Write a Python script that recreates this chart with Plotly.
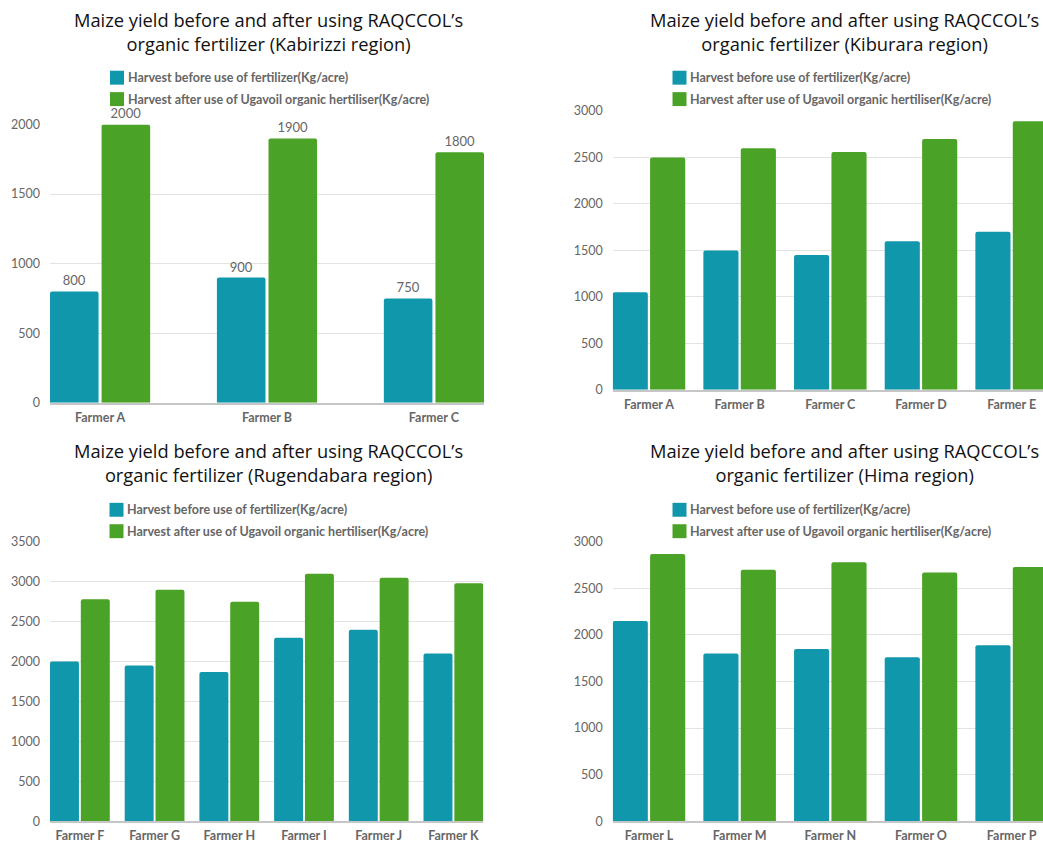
import plotly.graph_objects as go

W, H = 1043, 843
# observed vertical mapping of the rendered page: shown_y = Y_OFF + Y_SCALE * figure_y
Y_OFF, Y_SCALE = 8.5, 0.977

series_names = ["Harvest before use of fertilizer(Kg/acre)",
                "Harvest after use of Ugavoil organic hertiliser(Kg/acre)"]
colors = ["#1097AB", "#4AA226"]

kab_farmers = ["Farmer A", "Farmer B", "Farmer C"]
kab_before = [800, 900, 750]
kab_after = [2000, 1900, 1800]

kib_farmers = ["Farmer A", "Farmer B", "Farmer C", "Farmer D", "Farmer E"]
kib_before = [1050, 1500, 1450, 1600, 1700]
kib_after = [2500, 2600, 2560, 2700, 2890]

rug_farmers = ["Farmer F", "Farmer G", "Farmer H", "Farmer I", "Farmer J", "Farmer K"]
rug_before = [2000, 1950, 1870, 2300, 2400, 2100]
rug_after = [2780, 2900, 2750, 3100, 3050, 2980]

him_farmers = ["Farmer L", "Farmer M", "Farmer N", "Farmer O", "Farmer P"]
him_before = [2150, 1800, 1850, 1760, 1890]
him_after = [2870, 2700, 2780, 2670, 2730]

titles = [
    "Maize yield before and after using RAQCCOL’s<br>organic fertilizer (Kabirizzi region)",
    "Maize yield before and after using RAQCCOL’s<br>organic fertilizer (Kiburara region)",
    "Maize yield before and after using RAQCCOL’s<br>organic fertilizer (Rugendabara region)",
    "Maize yield before and after using RAQCCOL’s<br>organic fertilizer (Hima region)",
]

RIGHT_RANGE = -0.4 + (1043 - 612.7) / 90.67

panels = [
    dict(cats=kab_farmers, b=kab_before, a=kab_after, ymax=2000,
         x0=50, x1=484, yt=125.5, yb=405, xr=[-0.3, 2.3], labels=True,
         half=0.3, gap=0.018, tx=268, ty=32, lx=110, ly=78.5),
    dict(cats=kib_farmers, b=kib_before, a=kib_after, ymax=3000,
         x0=612.7, x1=1043, yt=112, yb=392, xr=[-0.4, RIGHT_RANGE], labels=False,
         half=0.4, gap=0.025, tx=844.5, ty=32, lx=672.5, ly=78.5),
    dict(cats=rug_farmers, b=rug_before, a=rug_after, ymax=3500,
         x0=50, x1=483.3, yt=544.7, yb=825.3, xr=[-0.4, 5.4], labels=False,
         half=0.4, gap=0.025, tx=268, ty=465, lx=109.5, ly=512.5),
    dict(cats=him_farmers, b=him_before, a=him_after, ymax=3000,
         x0=612.7, x1=1043, yt=544.7, yb=825.3, xr=[-0.4, RIGHT_RANGE], labels=False,
         half=0.4, gap=0.025, tx=844.5, ty=465, lx=672.5, ly=512.5),
]

fig = go.Figure()
annotations = []
shapes = []


def px_x(x):
    return x / W


def px_y(y):
    return 1 - ((y - Y_OFF) / Y_SCALE) / H


for i, p in enumerate(panels):
    n = "" if i == 0 else str(i + 1)
    xa, ya = "x" + n, "y" + n
    bw = p["half"] - p["gap"] / 2
    offs = [-p["half"], p["gap"] / 2]
    for k, (vals, name, col) in enumerate([(p["b"], series_names[0], colors[0]),
                                           (p["a"], series_names[1], colors[1])]):
        fig.add_trace(go.Bar(
            x=p["cats"], y=vals, name=name, xaxis=xa, yaxis=ya,
            width=bw, offset=offs[k],
            marker=dict(color=col, line=dict(width=0)),
            showlegend=False,
            text=[str(v) for v in vals] if p["labels"] else None,
            textposition="outside" if p["labels"] else None,
            textfont=dict(family="Lato", size=13, color="#666666"),
            cliponaxis=False,
            hoverinfo="x+y+name",
        ))
    fig.layout["xaxis" + n] = dict(
        domain=[px_x(p["x0"]), min(px_x(p["x1"]), 1)], anchor=ya, type="category",
        range=p["xr"], showgrid=False, showline=True, linecolor="#c6c6c6", linewidth=1.5,
        ticks="", tickfont=dict(family="Lato", size=12.5, color="#666666", weight="bold"),
        ticklabelstandoff=2, fixedrange=True,
    )
    fig.layout["yaxis" + n] = dict(
        domain=[px_y(p["yb"]), px_y(p["yt"])], anchor=xa,
        range=[0, p["ymax"]], dtick=500, showgrid=True, gridcolor="#e3e3e3", gridwidth=1,
        zeroline=False, showline=False, ticks="",
        tickfont=dict(family="Lato", size=12.5, color="#666666"),
        ticklabelstandoff=9, fixedrange=True,
    )
    annotations.append(dict(
        text=titles[i], x=px_x(p["tx"]), y=px_y(p["ty"]), xref="paper", yref="paper",
        xanchor="center", yanchor="middle", showarrow=False, align="center",
        font=dict(family="Open Sans", size=18.3, color="#111111"),
    ))
    for k in range(2):
        cy = p["ly"] + k * 21.5
        shapes.append(dict(type="rect", xref="paper", yref="paper",
                           x0=px_x(p["lx"]), x1=px_x(p["lx"] + 14),
                           y0=px_y(cy + 7), y1=px_y(cy - 7),
                           fillcolor=colors[k], line=dict(width=0)))
        annotations.append(dict(
            text=series_names[k], x=px_x(p["lx"] + 15.5), y=px_y(cy), xref="paper", yref="paper",
            xanchor="left", yanchor="middle", showarrow=False,
            font=dict(family="Lato", size=12.5, color="#666666", weight="bold"),
        ))

fig.update_layout(
    width=W, height=H, margin=dict(l=0, r=0, t=0, b=0),
    paper_bgcolor="white", plot_bgcolor="white",
    barmode="overlay", barcornerradius=2,
    annotations=annotations, shapes=shapes,
)

fig.write_html("out.html", config={"displayModeBar": False})
